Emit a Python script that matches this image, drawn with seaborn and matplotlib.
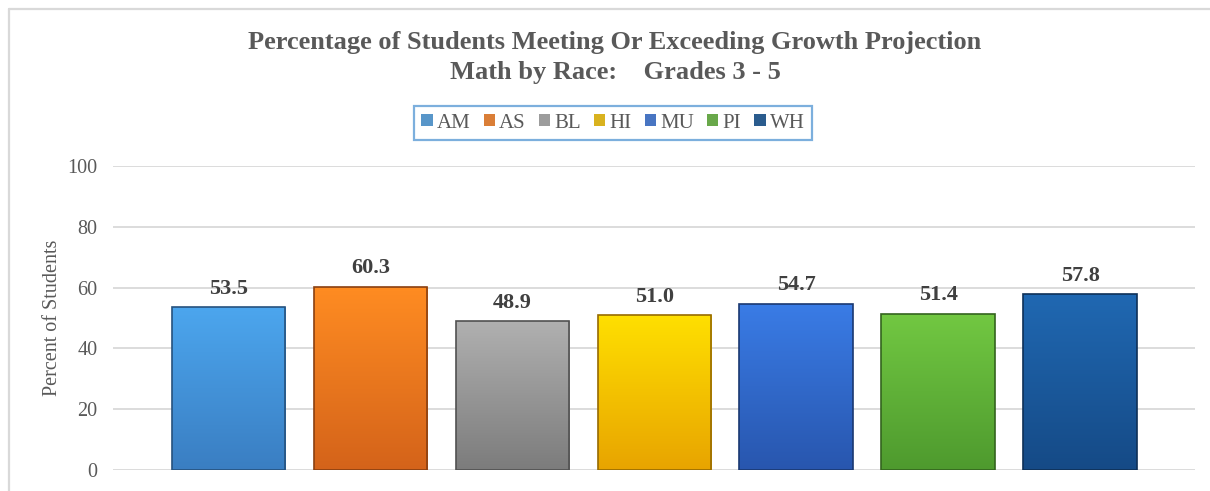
import matplotlib
matplotlib.use("Agg")
import matplotlib.pyplot as plt
import seaborn as sns
import pandas as pd
import numpy as np
from matplotlib.colors import LinearSegmentedColormap
from matplotlib.lines import Line2D

# dados do gráfico
racas = ["AM", "AS", "BL", "HI", "MU", "PI", "WH"]
percentuais = [53.5, 60.3, 48.9, 51.0, 54.7, 51.4, 57.8]
cores = ["#4598DC", "#F57B1C", "#9C9C9C", "#F8C400", "#3470D6", "#64B83A", "#1B5C9E"]
cores_topo = ["#4CA6EE", "#FF8C22", "#B0B0B0", "#FFE000", "#3A7CE6", "#72C842", "#2068B2"]
cores_base = ["#3A7EC2", "#D4631A", "#7C7C7C", "#E8A400", "#2856AE", "#4E9A2E", "#154A86"]
yticks = [0, 20, 40, 60, 80, 100]

df = pd.DataFrame({"Raca": racas, "Percentual": percentuais})

sns.set_style("white")
plt.rcParams["font.family"] = ["Liberation Serif", "DejaVu Serif"]

fig = plt.figure(figsize=(12.1, 4.91), dpi=100)
ax = fig.add_axes([113 / 1210, 1 - 470 / 491, (1195 - 113) / 1210, (470 - 166) / 491])

sns.barplot(data=df, x="Raca", y="Percentual", hue="Raca", palette=cores,
            width=0.8, edgecolor="none", ax=ax, legend=True, zorder=2)

# gradiente vertical em cada barra
grad = np.linspace(0, 1, 256).reshape(-1, 1)
for patch, topo, base in zip(ax.patches, cores_topo, cores_base):
    x0, y0 = patch.get_x(), patch.get_y()
    w, h = patch.get_width(), patch.get_height()
    cmap = LinearSegmentedColormap.from_list("g", [topo, base])
    im = ax.imshow(grad, cmap=cmap, extent=[x0, x0 + w, y0, y0 + h],
                   aspect="auto", origin="upper", zorder=3)
    im.set_clip_path(patch)
    borda = LinearSegmentedColormap.from_list("b", [base, "black"])(0.35)
    ax.add_patch(plt.Rectangle((x0, y0), w, h, fill=False, edgecolor=borda,
                               linewidth=1.2, zorder=4))

for cont in ax.containers:
    ax.bar_label(cont, fmt="%.1f", padding=6, fontsize=16, fontweight="bold",
                 color="#404040", zorder=5)

ax.set_xlim(-0.814, 6.81)
ax.set_ylim(0, 100)
ax.set_yticks(yticks)
ax.set_xticks([])
ax.set_xlabel("")
ax.set_ylabel("Percent of Students", fontsize=14.5, color="#595959", labelpad=4)
ax.tick_params(axis="y", labelsize=14.5, labelcolor="#595959", length=0, pad=11)
ax.grid(axis="y", color="#D9D9D9", linewidth=1.3, zorder=0)
ax.set_axisbelow(True)
sns.despine(ax=ax, left=True, bottom=True)

sns.move_legend(ax, "center", bbox_to_anchor=(613 / 1210, 1 - 123 / 491),
                bbox_transform=fig.transFigure, ncol=7, title=None,
                frameon=True, fontsize=15, handlelength=0.55, handleheight=0.55,
                handletextpad=0.2, columnspacing=0.62, borderpad=0.35,
                fancybox=False, labelcolor="#595959")
leg = ax.get_legend()
leg.get_frame().set_edgecolor("#5B9BD5")
leg.get_frame().set_linewidth(1.6)

fig.text(615 / 1210, 1 - 43 / 491,
         "Percentage of Students Meeting Or Exceeding Growth Projection",
         ha="center", va="center", fontsize=19, fontweight="bold", color="#595959")
fig.text(615 / 1210, 1 - 73 / 491, "Math by Race:    Grades 3 - 5",
         ha="center", va="center", fontsize=19, fontweight="bold", color="#595959")

# moldura do gráfico
fig.add_artist(Line2D([9 / 1210, 1], [1 - 9 / 491, 1 - 9 / 491],
                      transform=fig.transFigure, color="#D9D9D9", linewidth=1.6))
fig.add_artist(Line2D([9 / 1210, 9 / 1210], [0, 1 - 9 / 491],
                      transform=fig.transFigure, color="#D9D9D9", linewidth=1.6))

fig.savefig("out.png", dpi=100)
